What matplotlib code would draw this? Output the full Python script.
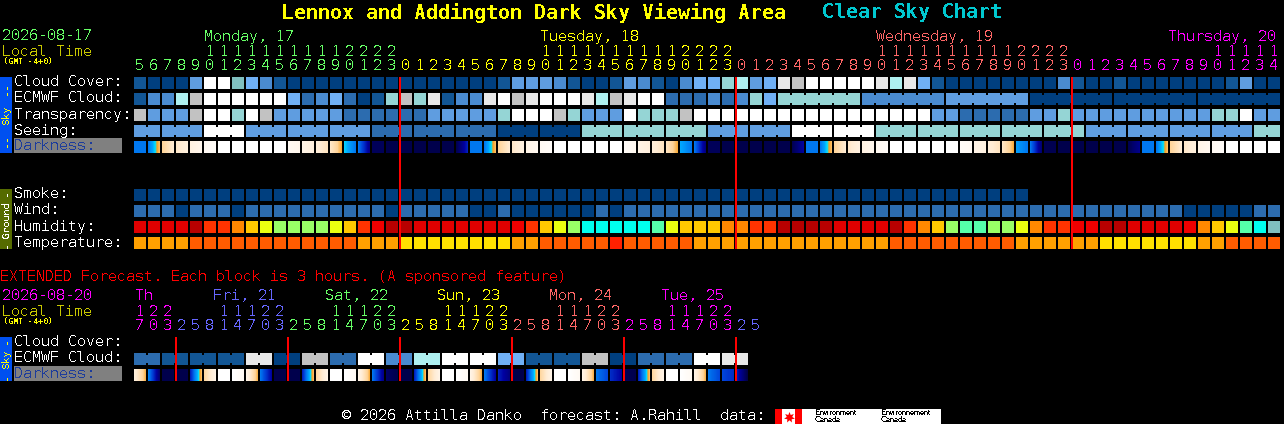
import matplotlib
matplotlib.use("Agg")
import matplotlib.pyplot as plt
import numpy as np
from matplotlib.colors import LinearSegmentedColormap

plt.rcParams['text.antialiased'] = False
plt.rcParams['text.hinting'] = 'native'
plt.rcParams['text.hinting_factor'] = 1
MONO = 'DejaVu Sans Mono'

# ---- data -----------------------------------------------------------------
main_hours = [5,6,7,8,9,10,11,12,13,14,15,16,17,18,19,20,21,22,23,
              0,1,2,3,4,5,6,7,8,9,10,11,12,13,14,15,16,17,18,19,20,21,22,23,
              0,1,2,3,4,5,6,7,8,9,10,11,12,13,14,15,16,17,18,19,20,21,22,23,
              0,1,2,3,4,5,6,7,8,9,10,11,12,13,14]
main_days = [("Monday, 17", 204, '#66ff66'), ("Tuesday, 18", 540, '#ffff00'),
             ("Wednesday, 19", 876, '#ff6666'), ("Thursday, 20", 1168, '#ff00ff')]
main_day_len = [19, 24, 24, 15]

cloud_cover = [1,0,0,0,4,11,11,6,5,3,1,0,0,0,0,0,0,0,0,0,0,
               0,0,0,0,0,1,4,4,4,3,1,0,0,1,4,3,1,0,3,5,5,7,8,4,5,10,9,11,11,11,11,
               11,10,8,10,5,1,0,0,0,0,0,0,0,0,3,1,0,0,1,0,0,0,0,0,0,0,1,4,0,0]
ecmwf_cloud = [1,3,3,8,9,11,11,11,11,11,11,5,2,3,5,2,0,1,7,9,7,
               10,1,3,3,10,11,9,10,11,11,11,10,8,9,10,11,11,2,2,2,3,2,3,7,5,
               7,7,7,7,7,7,3,3,3,3,3,3,4,4,4,4,4,4,
               0,0,0,0,0,0,0,0,0,0,0,0,0,0,0,0,0,0]
ecmwf_groups = [1]*46 + [6]*6
transparency = [9,4,4,4,9,11,11,7,11,9,4,4,4,4,4,2,2,2,2,2,2,
                4,4,4,4,4,7,11,11,11,9,7,4,4,4,11,7,7,7,9,11,11,11,11,11,11,11,11,11,11,11,11,
                11,11,11,11,11,4,4,2,2,2,2,2,4,4,7,4,4,4,4,4,4,4,4,4,4,7,7,11,4,4]
seeing = [4,4,4,4,4,11,11,11,4,4,4,4,4,4,4,4,4,2,2,2,2,2,2,2,2,2,0,0,0,0,0,0,
          7,7,7,7,7,7,7,7,7,4,4,4,4,4,4,11,11,11,11,11,11,
          7,7,7,7,7,7,7,7,7,7,7,7,7,7,7,4,4,4,4,4,4,4,4,4,4,4,4,7,7]
seeing_groups = [2,3,3,3,3,3,3,3,3,3,3,3,3,3,3,3,3,3,3,3,3,3,3,3,3,3,3,2]
dark_start = [.33,.33,.60,.72,.82,.92,1,1,1,1,1,.92,.85,.78,.72,.46,.33,.04,.02,.02,.02,
              .02,.02,.03,.33,.33,.60,.72,.85,.92,1,1,1,1,1,.95,.85,.78,.70,.42,.33,.04,.02,.02,.02,.02,.02,
              .03,.33,.33,.60,.72,.82,.90,1,1,1,1,1,.95,.85,.78,.72,.40,.33,.03,.02,.02,.02,.02,.02,
              .03,.33,.33,.60,.72,.85,.92,1,1,1,1]
dark_end = [.33,.56,.75,.80,.88,.95,1,1,1,1,1,.88,.80,.70,.53,.33,.12,.04,.02,.02,.02,
            .02,.02,.20,.33,.56,.75,.82,.90,.96,1,1,1,1,1,.90,.80,.70,.53,.33,.10,.04,.02,.02,.02,.02,.02,
            .15,.33,.56,.75,.82,.88,.95,1,1,1,1,1,.92,.82,.70,.53,.33,.08,.03,.02,.02,.02,.02,.02,
            .12,.33,.56,.75,.80,.90,.96,1,1,1,1]
smoke = [0]*64
wind = [2,2,2,0,2,2,2,0,2,2,2,2,2,2,2,2,2,2,0,2,2,
        2,2,2,0,0,2,0,0,0,0,0,0,2,0,2,2,2,2,2,2,2,2,2,2,2,2,2,2,2,2,2,
        2,2,2,2,2,2,2,2,2,2,2,2,2,2,2,2,2,2,2,2,2,2,2,0,0,0,0,0,2,2]
humidity = list("bbbbaddefghhhhgfdcaab"
                "bbbbbbcdfghjjjjjigfffeeddaaaabb"
                "bbadefhiihhgeddccaabbbbcefgijk")
temperature = list("AAAABBBBBBBBBBBBAAADD"
                   "DDDDDDAABBBBBCBBBBBAAAAAAAAAAAA"
                   "AABBBBBBBBBAAAAAADDDDDDDAABBBB")

ext_hours = [17,20,23, 2,5,8,11,14,17,20,23, 2,5,8,11,14,17,20,23, 2,5,8,11,14,17,20,23,
             2,5,8,11,14,17,20,23, 2,5,8,11,14,17,20,23, 2,5]
ext_colors = ['#ff00ff']*3 + ['#6666ff']*8 + ['#66ff66']*8 + ['#ffff00']*8 + ['#ff6666']*8 + ['#ff00ff']*8 + ['#6666ff']*2
ext_days = [("Th", 135, '#ff00ff'), ("Fri, 21", 213, '#6666ff'), ("Sat, 22", 325, '#66ff66'),
            ("Sun, 23", 437, '#ffff00'), ("Mon, 24", 549, '#ff6666'), ("Tue, 25", 661, '#ff00ff')]
ext_ecmwf = [2,2,1,1,1,1,1,1,10,10,0,0,9,9,2,2,11,11,3,3,8,8,11,11,11,11,5,5,1,1,1,1,9,9,0,0,2,2,2,2,11,11,10,10]
ext_groups = [2]*22
ext_dark_start = [.80,.35,.02,.02,.20,.62,1,1,.85,.33,.02,.02,.20,.62,1,1,.85,.33,.06,.02,.20,.62,
                  1,1,.85,.33,.20,.02,.20,.62,1,1,.85,.33,.22,.04,.20,.62,1,1,.85,.33,.26,.20]
ext_dark_end = [.54,.08,.02,.02,.56,.85,1,.92,.54,.15,.02,.02,.56,.85,1,.92,.54,.12,.02,.02,.56,.85,
                1,.92,.54,.15,.10,.02,.56,.85,1,.92,.54,.26,.15,.02,.56,.85,1,.92,.54,.26,.22,.01]

# ---- styling --------------------------------------------------------------
cloud_colors = ['#003f7f','#125695','#2c6caf','#4a8bd0','#5f9de0','#70b0f5',
                '#80bfbf','#95d5d5','#aef0f0','#c2c2c2','#e8e8e8','#ffffff']
hum_colors = dict(a='#b80000', b='#e00000', c='#f00000', d='#ff3300', e='#ff8800', f='#ffc800',
                  g='#eaff10', h='#99ff66', i='#55ffaa', j='#00ffee', k='#80bfbf')
temp_colors = dict(A='#ffa000', B='#ff5c00', C='#ff2000', D='#ffe000')
dark_map = LinearSegmentedColormap.from_list('dark', [
    (0.0,'#000040'),(0.05,'#000060'),(0.15,'#0000a0'),(0.25,'#0040d8'),(0.33,'#0078f0'),
    (0.42,'#00a8ff'),(0.47,'#00e0ff'),(0.51,'#f8a020'),(0.60,'#ffd498'),(0.75,'#ffecd4'),
    (0.90,'#fff8f0'),(1.0,'#ffffff')])

X0, PITCH, CELL = 134, 14, 12
CRISP = dict(align='edge', linewidth=0, snap=False)

fig = plt.figure(figsize=(12.84, 4.24), dpi=100, facecolor='black')
ax = fig.add_axes([0, 0, 1, 1], facecolor='black')
ax.axis('off')


def txt(x, y, s, color='white', size=10.8, dy=1.5, **kw):
    kw.setdefault('family', MONO)
    ax.text(x, y + dy, s, color=color, fontsize=size, va='center', ha=kw.pop('ha', 'left'), **kw)


def row(top, colors):
    n = len(colors)
    xs = X0 + PITCH*np.arange(n)
    ax.bar(xs, [CELL]*n, width=CELL, bottom=top, color=colors, zorder=2, **CRISP)


def bridges(top, colors, groups):
    i = 0
    for g in groups:
        for j in range(i, i+g-1):
            ax.bar(X0 + PITCH*j + CELL, 8, width=PITCH-CELL, bottom=top+2,
                   color=colors[j], zorder=2, **CRISP)
        i += g


def dark_row(top, starts, ends):
    for i, (a, b) in enumerate(zip(starts, ends)):
        x = X0 + PITCH*i
        grad = dark_map(np.linspace(a, b, CELL))[None, :, :3]
        ax.imshow(grad, extent=(x, x+CELL, top+CELL, top), aspect='auto',
                  interpolation='nearest', zorder=2)


def red_lines(xs, y0, y1):
    for x in xs:
        ax.bar(x-1, y1-y0, width=2, bottom=y0, color='#ff0000', zorder=3, **CRISP)


def side_bar(y0, y1, color):
    ax.bar(0, y1-y0, width=12, bottom=y0, color=color, zorder=1, **CRISP)


# ---- title ----------------------------------------------------------------
txt(282, 11, "Lennox and Addington Dark Sky Viewing Area", '#ffff00', 14.4, dy=2, weight='bold')
txt(822, 11, "Clear Sky Chart", '#00c8d0', 14.4, dy=2, weight='bold')

# ---- header ---------------------------------------------------------------
txt(2, 35, "2026-08-17", '#66ff66')
txt(2, 50, "Local Time", '#c8c800')
txt(3, 62, "(GMT -4+0)", '#ffff00', 5.8, dy=0, weight='bold')
for label, x, c in main_days:
    txt(x, 35, label, c)
cols = [c for (_, _, c), k in zip(main_days, main_day_len) for _ in range(k)]
for i, h in enumerate(main_hours):
    cx = X0 + PITCH*i + 6
    txt(cx, 65, str(h % 10), cols[i], ha='center')
    if h >= 10:
        txt(cx, 50, str(h // 10), cols[i], ha='center')

# ---- main rows ------------------------------------------------------------
for y, s in [(81, "Cloud Cover:"), (97, "ECMWF Cloud:"), (113, "Transparency:"), (129, "Seeing:"),
             (193, "Smoke:"), (209, "Wind:"), (225, "Humidity:"), (241, "Temperature:")]:
    txt(14, y, s)
ax.bar(14, 15, width=108, bottom=138, color='#808080', **CRISP)
txt(14, 145, "Darkness:", '#1c3c9c', zorder=3)

cc = [cloud_colors[v] for v in cloud_cover]
ec = [cloud_colors[v] for v in ecmwf_cloud]
tr = [cloud_colors[v] for v in transparency]
se = [cloud_colors[v] for v in seeing]
row(77, cc)
row(93, ec); bridges(93, ec, ecmwf_groups)
row(109, tr)
row(125, se); bridges(125, se, seeing_groups)
dark_row(141, dark_start, dark_end)
row(189, [cloud_colors[v] for v in smoke])
row(205, [cloud_colors[v] for v in wind])
row(221, [hum_colors[v] for v in humidity])
row(237, [temp_colors[v] for v in temperature])
red_lines([400, 736, 1072], 77, 249)

side_bar(77, 153, '#0050f0')
txt(6, 115, "Sky", '#ffff00', 7, dy=0, rotation=90, ha='center')
txt(6, 89, "--", '#ffff00', 7, dy=0, rotation=90, ha='center')
txt(6, 141, "--", '#ffff00', 7, dy=0, rotation=90, ha='center')
side_bar(189, 249, '#556b00')
txt(6, 220, "Ground", 'white', 7, dy=0, rotation=90, ha='center')
txt(6, 193, "-", 'white', 7, dy=0, rotation=90, ha='center')
txt(6, 245, "-", 'white', 7, dy=0, rotation=90, ha='center')

# ---- extended -------------------------------------------------------------
txt(0, 276, "EXTENDED Forecast. Each block is 3 hours. (A sponsored feature)", '#ff0000')
txt(2, 295, "2026-08-20", '#ff00ff')
txt(2, 310, "Local Time", '#c8c800')
txt(3, 322, "(GMT -4+0)", '#ffff00', 5.8, dy=0, weight='bold')
for label, x, c in ext_days:
    txt(x, 295, label, c)
for i, h in enumerate(ext_hours):
    cx = X0 + PITCH*i + 6
    txt(cx, 325, str(h % 10), ext_colors[i], ha='center')
    if h >= 10:
        txt(cx, 310, str(h // 10), ext_colors[i], ha='center')

txt(14, 341, "Cloud Cover:")
txt(14, 357, "ECMWF Cloud:")
ax.bar(14, 15, width=108, bottom=366, color='#808080', **CRISP)
txt(14, 373, "Darkness:", '#1c3c9c', zorder=3)
xe = [cloud_colors[v] for v in ext_ecmwf]
row(353, xe); bridges(353, xe, ext_groups)
dark_row(369, ext_dark_start, ext_dark_end)
red_lines([176, 288, 400, 512, 624, 736], 337, 381)
side_bar(337, 381, '#0050f0')
txt(6, 359, "Sky", '#ffff00', 7, dy=0, rotation=90, ha='center')
txt(6, 341, "-", '#ffff00', 7, dy=0, rotation=90, ha='center')
txt(6, 377, "-", '#ffff00', 7, dy=0, rotation=90, ha='center')

# ---- footer ---------------------------------------------------------------
txt(342, 415, "\u00a9 2026 Attilla Danko  forecast: A.Rahill  data:", dy=0.5)
ax.bar(775, 15, width=166, bottom=409, color='white', **CRISP)
ax.bar(775, 15, width=7, bottom=409, color='#ff0000', **CRISP)
ax.bar(795, 15, width=7, bottom=409, color='#ff0000', **CRISP)
ax.plot([788.5], [416.5], marker=(7, 1, 0), ms=8, color='#ff0000', mew=0, zorder=3)
for x, top, bot in [(815, "Environment", "Canada"), (881, "Environnement", "Canada")]:
    ax.text(x, 413, top, color='black', fontsize=6, family='Liberation Sans', va='center', zorder=3)
    ax.text(x, 420, bot, color='black', fontsize=6, family='Liberation Sans', va='center', zorder=3)

ax.set_xlim(0, 1284)
ax.set_ylim(424, 0)
fig.savefig('out.png', dpi=100, facecolor='black')
